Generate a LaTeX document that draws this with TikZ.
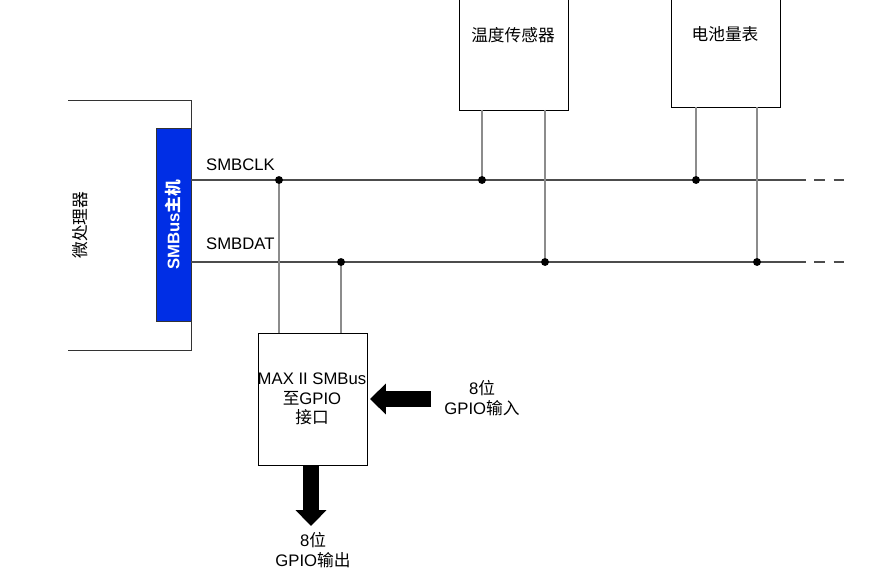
\documentclass[tikz,border=0pt]{standalone}
\usepackage{fontspec}
\setmainfont{Liberation Sans}
\newfontfamily\cjk{Noto Sans CJK SC}
\usetikzlibrary{positioning,arrows.meta}
\begin{document}
\begin{tikzpicture}[x=0.02cm,y=-0.02cm]
  \tikzstyle{every node}=[font=\fontsize{9.5}{11}\selectfont, text=black, align=center]
  \tikzstyle{bus}=[black!70, line width=0.6pt]
  \tikzstyle{tap}=[black!45, line width=0.6pt]
  \tikzstyle{dot}=[circle, fill=black, inner sep=0pt, minimum size=4.5pt]
  \tikzstyle{fat}=[-{Triangle[length=9pt,width=17pt]}, line width=9pt]
  \useasboundingbox (0,0) rectangle (874,574);

  % microprocessor
  \draw[black!80] (68,100) -- (191,100) -- (191,350) -- (68,350);
  \node[rotate=90] (cpu) at (80,225) {\cjk 微处理器};
  \fill[blue!80!cyan!90!black] (156,128) rectangle (191,321);
  \draw[black!80] (156,128) rectangle (191,321);
  \node[rotate=90, text=white, font=\bfseries\fontsize{9.5}{11}\selectfont] (host) at (173,225) {SMBus{\cjk 主机}};

  % slave boxes
  \draw (459,-2) rectangle (568,110);
  \node (temp) at (513,35) {\cjk 温度传感器};
  \draw (671,-2) rectangle (780,107);
  \node (gauge) at (725,34) {\cjk 电池量表};
  \draw (258,333) rectangle (367,465);
  \node (max) at (312,399) {MAX II SMBus\\{\cjk 至}GPIO\\{\cjk 接口}};

  % bus lines
  \coordinate (clkA) at (191,180); \coordinate (clkB) at (795,180); \coordinate (clkC) at (845,180);
  \coordinate (datA) at (191,262); \coordinate (datB) at (795,262); \coordinate (datC) at (845,262);
  \draw[bus] (clkA) -- (clkB);
  \draw[bus] (datA) -- (datB);
  \draw[bus, dash pattern=on 6pt off 5pt] (clkB) -- (clkC);
  \draw[bus, dash pattern=on 6pt off 5pt] (datB) -- (datC);
  \node[anchor=west] (clk) at (200,165) {SMBCLK};
  \node[anchor=west] (dat) at (200,244) {SMBDAT};

  % taps
  \foreach \x/\ytop/\ybus in {482/110/180, 545/110/262, 696/107/180, 757/107/262, 279/333/180, 341/333/262} {
    \draw[tap] (\x,\ytop) -- (\x,\ybus);
    \node[dot] at (\x,\ybus) {};
  }

  % gpio arrows
  \coordinate (inS) at (431,399); \coordinate (inE) at (370,399);
  \draw[fat] (inS) -- (inE);
  \node (gin) at (482,398) {8{\cjk 位}\\GPIO{\cjk 输入}};
  \coordinate (outS) at (311,466); \coordinate (outE) at (311,526);
  \draw[fat] (outS) -- (outE);
  \node (gout) at (313,550) {8{\cjk 位}\\GPIO{\cjk 输出}};
\end{tikzpicture}
\end{document}
